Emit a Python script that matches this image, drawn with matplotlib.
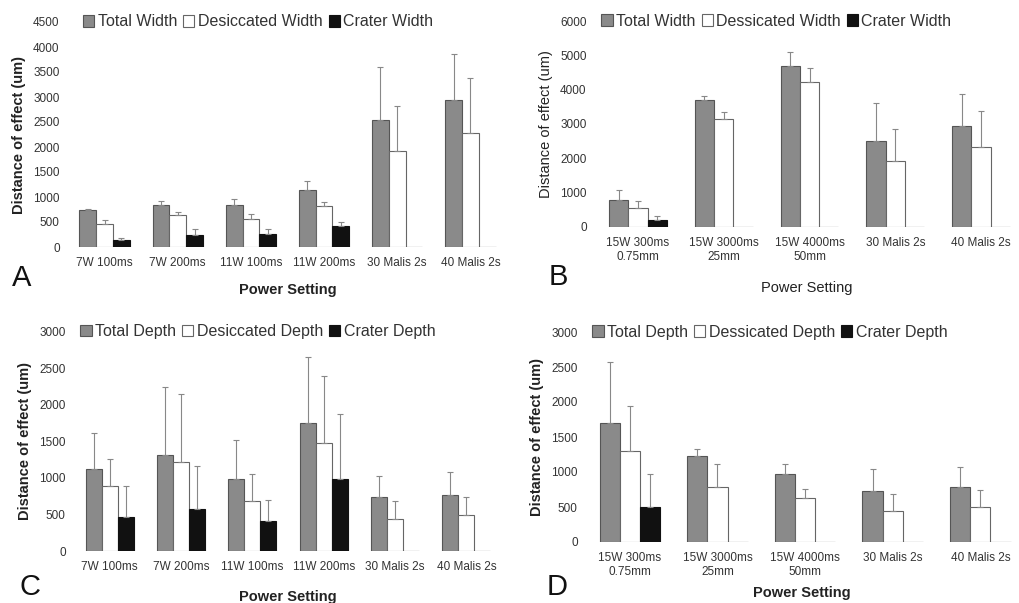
import matplotlib
matplotlib.use("Agg")
import matplotlib.pyplot as plt
import numpy as np

plt.rcParams['font.family'] = ['Liberation Sans', 'DejaVu Sans']

# panel A - widths, Malis vs laser
cats_a = ["7W 100ms", "7W 200ms", "11W 100ms", "11W 200ms", "30 Malis 2s", "40 Malis 2s"]
tot_a = [740, 840, 840, 1150, 2540, 2940]
tot_a_err = [20, 90, 130, 170, 1060, 930]
des_a = [470, 640, 570, 820, 1920, 2290]
des_a_err = [70, 60, 100, 80, 910, 1090]
cra_a = [140, 250, 270, 430, 0, 0]
cra_a_err = [50, 120, 90, 70, 0, 0]

# panel B
cats_b = ["15W 300ms\n0.75mm", "15W 3000ms\n25mm", "15W 4000ms\n50mm", "30 Malis 2s", "40 Malis 2s"]
tot_b = [800, 3690, 4690, 2510, 2935]
tot_b_err = [270, 120, 410, 1090, 925]
des_b = [555, 3160, 4210, 1925, 2325]
des_b_err = [195, 175, 430, 915, 1055]
cra_b = [195, 0, 0, 0, 0]
cra_b_err = [115, 0, 0, 0, 0]

# panel C - depths
tot_c = [1130, 1315, 980, 1760, 735, 765]
tot_c_err = [490, 925, 540, 900, 295, 320]
des_c = [895, 1225, 680, 1475, 435, 500]
des_c_err = [370, 925, 380, 925, 245, 245]
cra_c = [465, 570, 410, 985, 0, 0]
cra_c_err = [425, 600, 295, 890, 0, 0]

# panel D
tot_d = [1705, 1225, 975, 725, 785]
tot_d_err = [865, 110, 145, 315, 285]
des_d = [1300, 785, 635, 445, 500]
des_d_err = [645, 325, 120, 235, 250]
cra_d = [500, 0, 0, 0, 0]
cra_d_err = [475, 0, 0, 0, 0]

W, H = 1020, 603
fig = plt.figure(figsize=(W / 100, H / 100), dpi=100)
fig.patch.set_facecolor("white")


def px(x0, x1, ytop, ybot):
    return [x0 / W, 1 - ybot / H, (x1 - x0) / W, (ybot - ytop) / H]


def panel(rect, cats, series, errs, names, ymax, ystep, bw, bold, letter, letter_xy,
          xlab_y, leg_x, xright=None):
    ax = fig.add_axes(rect)
    n = len(cats)
    x = np.arange(n)
    fcs = ["#8a8a8a", "white", "#111111"]
    ecs = ["#555555", "#666666", "#111111"]
    for k in range(3):
        xs = x + (k - 1) * bw
        ax.bar(xs, series[k], bw, color=fcs[k], edgecolor=ecs[k], linewidth=0.8,
               label=names[k], zorder=2)
        v = np.array(series[k], float)
        e = np.array(errs[k], float)
        m = e > 0
        ax.errorbar(xs[m], v[m], yerr=[np.zeros(m.sum()), e[m]], fmt="none",
                    ecolor="#888888", elinewidth=0.8, capsize=2.5, capthick=0.8, zorder=3)
    ax.set_xlim(-0.5, xright if xright is not None else n - 0.5)
    ax.set_ylim(0, ymax)
    ax.set_yticks(np.arange(0, ymax + 1, ystep))
    ax.set_xticks(x)
    ax.set_xticklabels(cats)
    for s in ax.spines.values():
        s.set_visible(False)
    ax.tick_params(length=0, labelsize=8.5, colors="#333333")
    ax.tick_params(axis="y", pad=6)
    ax.tick_params(axis="x", pad=7)
    fw = "bold" if bold else "normal"
    ax.set_ylabel("Distance of effect (um)", fontsize=10.5, fontweight=fw, color="#222222",
                  labelpad=5)
    ax.set_xlabel("Power Setting", fontsize=10.5, fontweight=fw, color="#222222")
    ax.xaxis.set_label_coords(0.5, xlab_y)
    leg = ax.legend(loc="center left", bbox_to_anchor=(leg_x, 1.0), ncol=3, frameon=False,
                    fontsize=11.5, handlelength=0.7, handleheight=0.7, handletextpad=0.2,
                    columnspacing=0.4, borderaxespad=0)
    for t in leg.get_texts():
        t.set_color("#333333")
    fig.text(letter_xy[0] / W, 1 - letter_xy[1] / H, letter, fontsize=21, color="#111111",
             ha="center", va="center")
    return ax


panel(px(68, 507, 22, 247), cats_a, [tot_a, des_a, cra_a], [tot_a_err, des_a_err, cra_a_err],
      ["Total Width", "Desiccated Width", "Crater Width"], 4500, 500, 0.23, True,
      "A", (22, 278), -0.16, 0.02)

panel(px(595, 1018, 21, 227), cats_b, [tot_b, des_b, cra_b], [tot_b_err, des_b_err, cra_b_err],
      ["Total Width", "Dessicated Width", "Crater Width"], 6000, 1000, 0.225, False,
      "B", (558, 277), -0.26, 0.0, xright=4.43)

panel(px(74, 502, 332, 551), cats_a, [tot_c, des_c, cra_c], [tot_c_err, des_c_err, cra_c_err],
      ["Total Depth", "Desiccated Depth", "Crater Depth"], 3000, 500, 0.225, True,
      "C", (30, 587), -0.18, 0.0)

panel(px(586, 1018, 332, 542), cats_b, [tot_d, des_d, cra_d], [tot_d_err, des_d_err, cra_d_err],
      ["Total Depth", "Dessicated Depth", "Crater Depth"], 3000, 500, 0.23, True,
      "D", (557, 587), -0.21, 0.0, xright=4.43)

fig.savefig("out.png", dpi=100, facecolor="white")
